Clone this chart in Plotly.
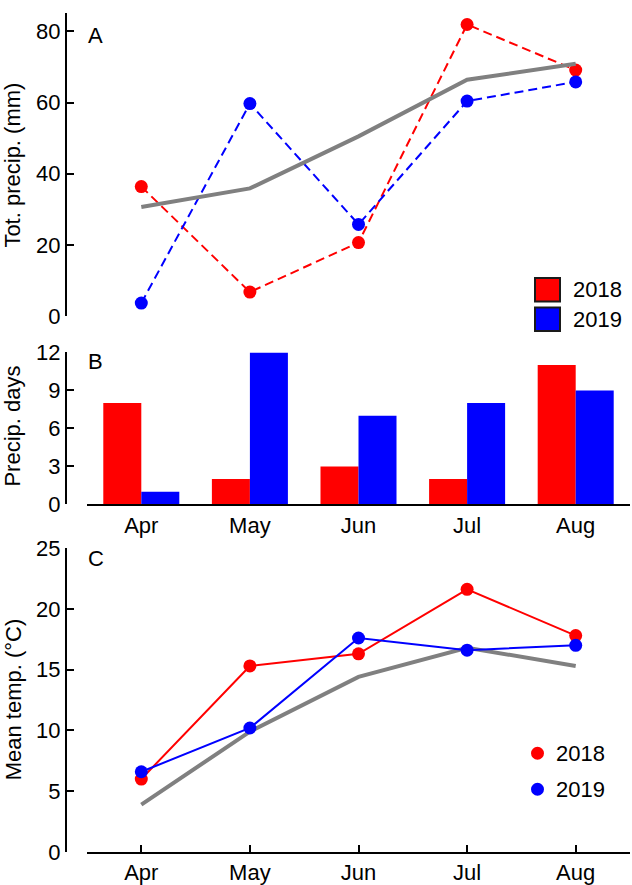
import plotly.graph_objects as go

months = ["Apr", "May", "Jun", "Jul", "Aug"]

precip_2018 = [36.4, 6.8, 20.7, 81.9, 69.1]
precip_2019 = [3.7, 59.7, 25.8, 60.4, 65.8]
precip_norm = [30.7, 35.9, 50.5, 66.4, 70.9]

days_2018 = [8, 2, 3, 2, 11]
days_2019 = [1, 12, 7, 8, 9]

temp_2018 = [6.0, 15.3, 16.3, 21.6, 17.8]
temp_2019 = [6.6, 10.2, 17.6, 16.6, 17.0]
temp_norm = [3.9, 9.9, 14.4, 16.8, 15.3]

years = ["2018", "2019"]
RED = "#ff0000"
BLUE = "#0000ff"
GRAY = "#808080"
FONT = "Liberation Sans, Arial, Helvetica, sans-serif"
FS = 22
MS = 13

W, H = 632, 885
ML, MR, MT, MB = 66, 2, 0, 32
PW = W - ML - MR
PH = H - MT - MB


def px(x):
    return (x - ML) / PW


def py(y):
    return (H - MB - y) / PH


fig = go.Figure()

# Panel A
fig.add_trace(go.Scatter(x=months, y=precip_2018, mode="lines+markers", xaxis="x", yaxis="y",
                         line=dict(color=RED, width=2, dash="9px,5px"),
                         marker=dict(color=RED, size=MS), showlegend=False))
fig.add_trace(go.Scatter(x=months, y=precip_2019, mode="lines+markers", xaxis="x", yaxis="y",
                         line=dict(color=BLUE, width=2, dash="9px,5px"),
                         marker=dict(color=BLUE, size=MS), showlegend=False))
fig.add_trace(go.Scatter(x=months, y=precip_norm, mode="lines", xaxis="x", yaxis="y",
                         line=dict(color=GRAY, width=4), showlegend=False))

# Panel B
fig.add_trace(go.Bar(x=months, y=days_2018, marker=dict(color=RED, line=dict(width=0)),
                     xaxis="x2", yaxis="y2", showlegend=False))
fig.add_trace(go.Bar(x=months, y=days_2019, marker=dict(color=BLUE, line=dict(width=0)),
                     xaxis="x2", yaxis="y2", showlegend=False))

# Panel C
fig.add_trace(go.Scatter(x=months, y=temp_norm, mode="lines", xaxis="x3", yaxis="y3",
                         line=dict(color=GRAY, width=4), showlegend=False))
fig.add_trace(go.Scatter(x=months, y=temp_2018, mode="lines+markers", xaxis="x3", yaxis="y3",
                         line=dict(color=RED, width=2),
                         marker=dict(color=RED, size=MS), showlegend=False))
fig.add_trace(go.Scatter(x=months, y=temp_2019, mode="lines+markers", xaxis="x3", yaxis="y3",
                         line=dict(color=BLUE, width=2),
                         marker=dict(color=BLUE, size=MS), showlegend=False))

xdom = [px(87), 1]
xcommon = dict(domain=xdom, type="category", categoryorder="array", categoryarray=months,
               range=[-0.5, 4.5], showgrid=False, zeroline=False,
               tickfont=dict(size=FS, color="black", family=FONT),
               linecolor="black", linewidth=2)
ycommon = dict(anchor="free", position=0, showline=True, linecolor="black", linewidth=2,
               ticks="inside", ticklen=7, tickwidth=2, tickcolor="black",
               showgrid=False, zeroline=False,
               tickfont=dict(size=FS, color="black", family=FONT))

fig.update_layout(
    width=W, height=H,
    margin=dict(l=ML, r=MR, t=MT, b=MB),
    paper_bgcolor="white", plot_bgcolor="white",
    font=dict(family=FONT, size=FS, color="black"),
    barmode="group", bargap=0.3, bargroupgap=0,
    xaxis=dict(xcommon, anchor="y", visible=False),
    xaxis2=dict(xcommon, anchor="y2", showline=True, ticks=""),
    xaxis3=dict(xcommon, anchor="y3", showline=True, ticks="inside", ticklen=7,
                tickwidth=2, tickcolor="black"),
    yaxis=dict(ycommon, domain=[py(309), py(1.5)], range=[0, 85],
               tickvals=[0, 20, 40, 60, 80]),
    yaxis2=dict(ycommon, domain=[py(500), py(345.7)], range=[0, 12],
                tickvals=[0, 3, 6, 9, 12]),
    yaxis3=dict(ycommon, domain=[py(853), py(544.3)], range=[0, 25],
                tickvals=[0, 5, 10, 15, 20, 25]),
)

ann = []
# axis titles
for text, yc in [("Tot. precip. (mm)", 156), ("Precip. days", 421), ("Mean temp. (°C)", 698)]:
    ann.append(dict(text=text, x=px(13), y=py(yc), xref="paper", yref="paper",
                    textangle=-90, showarrow=False, xanchor="center", yanchor="middle",
                    font=dict(size=FS)))
# panel letters
for text, yc in [("A", 24), ("B", 355), ("C", 555)]:
    ann.append(dict(text=text, x=px(86), y=py(yc), xref="paper", yref="paper",
                    showarrow=False, xanchor="left", yanchor="middle", font=dict(size=FS)))

shapes = []
# legend A (filled boxes)
for i, (yr, col) in enumerate(zip(years, [RED, BLUE])):
    y0 = 270 + i * 30
    shapes.append(dict(type="rect", xref="paper", yref="paper",
                       x0=px(535), x1=px(560), y0=py(y0), y1=py(y0 + 24),
                       fillcolor=col, line=dict(color="#1a1a1a", width=2)))
    ann.append(dict(text=yr, x=px(571), y=py(y0 + 12), xref="paper", yref="paper",
                    showarrow=False, xanchor="left", yanchor="middle", font=dict(size=FS)))
# legend C (dots)
for i, (yr, col) in enumerate(zip(years, [RED, BLUE])):
    yc = 752.7 + i * 36.6
    shapes.append(dict(type="circle", xref="paper", yref="paper",
                       x0=px(531), x1=px(544), y0=py(yc - 6.5), y1=py(yc + 6.5),
                       fillcolor=col, line=dict(color=col, width=0)))
    ann.append(dict(text=yr, x=px(554), y=py(yc), xref="paper", yref="paper",
                    showarrow=False, xanchor="left", yanchor="middle", font=dict(size=FS)))

fig.update_layout(annotations=ann, shapes=shapes)

fig.write_html(
    "out.html",
    config={"displayModeBar": False},
    post_script="document.body.style.margin='0';document.body.style.padding='0';"
                "document.documentElement.style.overflow='hidden';",
)
